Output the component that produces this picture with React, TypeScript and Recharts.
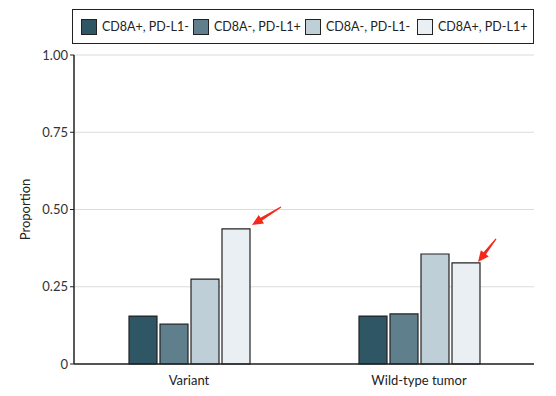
import React from 'react';
import { BarChart, Bar, XAxis, YAxis, CartesianGrid, Legend, LabelList } from 'recharts';

const categories = ['Variant', 'Wild-type tumor'];
const seriesNames = ['CD8A+, PD-L1-', 'CD8A-, PD-L1+', 'CD8A-, PD-L1-', 'CD8A+, PD-L1+'];
const posNeg = [0.155, 0.155];
const negPos = [0.129, 0.162];
const negNeg = [0.275, 0.356];
const posPos = [0.437, 0.327];
const yTicks = [0, 0.25, 0.5, 0.75, 1.0];

const colors = ['#2f5664', '#5f7f8c', '#bfcfd8', '#eaeff3'];
const keys = ['s0', 's1', 's2', 's3'];
// arrow offsets (tail relative to tip) for each category's highlighted bar
const arrowDx = [29, 18];
const arrowDy = [-18, -23];
const tipDx = [2, -2];
const tipDy = [-4, -1];

const data = categories.map((c, i) => ({
  name: c,
  s0: posNeg[i],
  s1: negPos[i],
  s2: negNeg[i],
  s3: posPos[i],
}));

const FONT = 'Lato, "Liberation Sans", sans-serif';

function Arrow(props: any) {
  const { x, y, width, index } = props;
  const tx = x + width + tipDx[index];
  const ty = y + tipDy[index];
  const dx = arrowDx[index];
  const dy = arrowDy[index];
  const len = Math.sqrt(dx * dx + dy * dy);
  const ux = dx / len;
  const uy = dy / len;
  const px = -uy;
  const py = ux;
  const head = 11;
  const hw = 5;
  const sw = 1.6;
  const bx = tx + ux * head;
  const by = ty + uy * head;
  const ex = tx + dx;
  const ey = ty + dy;
  const pts = [
    [tx, ty],
    [bx + px * hw, by + py * hw],
    [bx + px * sw, by + py * sw],
    [ex + px * 0.6, ey + py * 0.6],
    [ex - px * 0.6, ey - py * 0.6],
    [bx - px * sw, by - py * sw],
    [bx - px * hw, by - py * hw],
  ]
    .map((p) => p.join(','))
    .join(' ');
  return <polygon points={pts} fill="#f5291b" />;
}

function LegendBox() {
  return (
    <div
      style={{
        boxSizing: 'border-box',
        height: 35,
        width: 462,
        border: '1.5px solid #222',
        display: 'flex',
        alignItems: 'center',
        paddingLeft: 8,
        fontFamily: FONT,
        fontSize: 12.5,
        color: '#222',
        whiteSpace: 'nowrap',
      }}
    >
      {seriesNames.map((n, i) => (
        <div key={n} style={{ display: 'flex', alignItems: 'center', width: 112, flexShrink: 0 }}>
          <span
            style={{
              display: 'inline-block',
              width: 16,
              height: 16,
              flexShrink: 0,
              boxSizing: 'border-box',
              background: colors[i],
              border: '1px solid #222',
              marginRight: 5,
            }}
          />
          <span style={{ whiteSpace: 'nowrap' }}>{n}</span>
        </div>
      ))}
    </div>
  );
}

export default function App() {
  return (
    <div style={{ position: 'absolute', left: 0, top: 0, width: 556, height: 396, background: '#fff' }}>
      <BarChart
        width={556}
        height={396}
        data={data}
        margin={{ top: 20, right: 22, left: 0, bottom: 2 }}
        barSize={28}
        barGap={3}
      >
        <CartesianGrid vertical={false} stroke="#dcdcdc" strokeWidth={1.2} />
        <XAxis
          dataKey="name"
          tickLine={false}
          axisLine={{ stroke: '#222', strokeWidth: 1.5 }}
          tick={{ fontSize: 13, fill: '#222', fontFamily: FONT }}
          height={30}
          tickMargin={6}
        />
        <YAxis
          width={74}
          domain={[0, 1]}
          ticks={yTicks}
          interval={0}
          tickFormatter={(v: number) => (v === 0 ? '0' : v.toFixed(2))}
          axisLine={{ stroke: '#222', strokeWidth: 1.5 }}
          tickLine={{ stroke: '#222' }}
          tickSize={4}
          tickMargin={2}
          tick={{ fontSize: 13, fill: '#333', fontFamily: FONT }}
          label={{
            value: 'Proportion',
            angle: -90,
            position: 'insideLeft',
            dx: 20,
            style: { fontSize: 13, fill: '#222', fontFamily: FONT, textAnchor: 'middle' },
          }}
        />
        <Legend
          verticalAlign="top"
          align="left"
          wrapperStyle={{ top: 9, left: 72, width: 462 }}
          content={() => <LegendBox />}
        />
        {keys.map((k, i) => (
          <Bar
            key={k}
            dataKey={k}
            name={seriesNames[i]}
            fill={colors[i]}
            stroke="#222"
            strokeWidth={1.2}
            isAnimationActive={false}
          >
            {i === 3 && <LabelList dataKey={k} content={<Arrow />} />}
          </Bar>
        ))}
      </BarChart>
    </div>
  );
}
